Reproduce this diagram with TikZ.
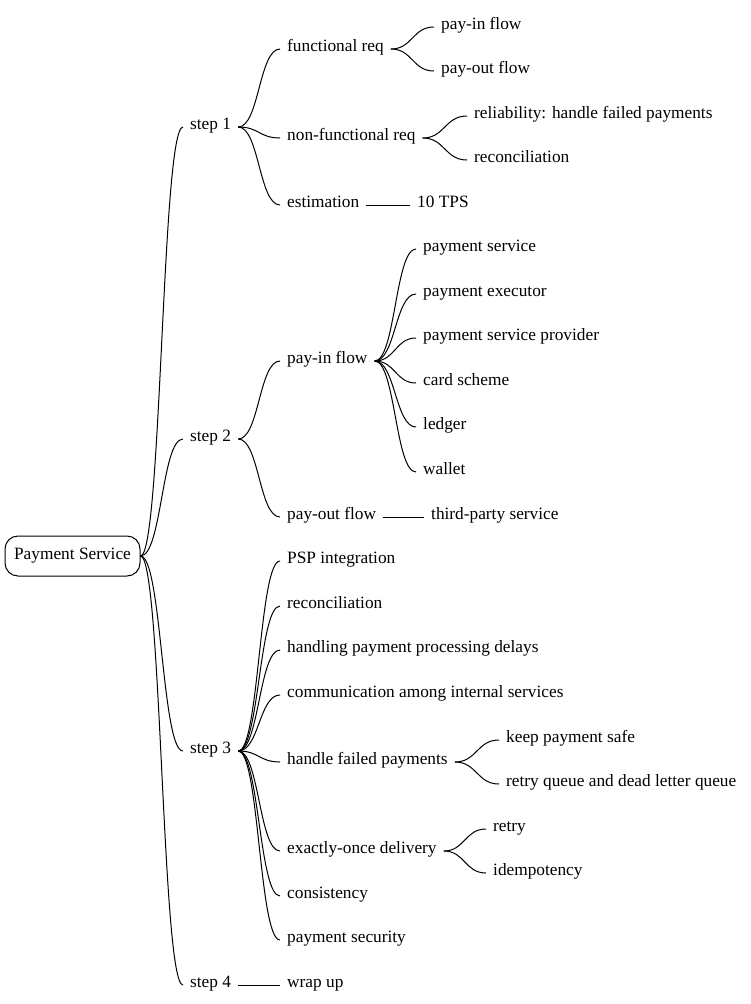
\documentclass[tikz,border=0pt]{standalone}
\usepackage{fontspec}
\setmainfont{Liberation Serif}
\usetikzlibrary{calc}
\tikzset{
  txt/.style={anchor=west, inner xsep=7pt, inner ysep=0pt, text height=0.46em, text depth=0pt, font=\fontsize{17.3}{20}\selectfont},
  rootbox/.style={draw, line width=1pt, rounded corners=13pt, minimum width=135pt, minimum height=40pt, inner sep=0pt, font=\fontsize{17.3}{20}\selectfont},
  edge/.style={line width=1pt}
}
\newcommand{\cv}[2]{\draw[edge] let \p1=(#1.east), \p2=(#2.west) in (\p1) .. controls ({0.5*\x1+0.5*\x2},\y1) and ({0.5*\x1+0.5*\x2},\y2) .. (\p2);}
\newcommand{\sln}[2]{\draw[edge] (#1.east) -- (#2.west);}
\begin{document}
\begin{tikzpicture}[x=1pt,y=-1pt]
\useasboundingbox (0,0) rectangle (750,1004);
\node[rootbox] (root) at (72.5,556) {Payment Service};
% level 1
\node[txt] (s1) at (183,127) {step 1};
\node[txt] (s2) at (183,439) {step 2};
\node[txt] (s3) at (183,751) {step 3};
\node[txt] (s4) at (183,985) {step 4};
% step 1
\node[txt] (fr) at (280,49) {functional req};
\node[txt] (nfr) at (280,138) {non-functional req};
\node[txt] (est) at (280,205) {estimation};
\node[txt] (fr1) at (434,27) {pay-in flow};
\node[txt] (fr2) at (434,71) {pay-out flow};
\node[txt] (nf1) at (467,116) {reliability: handle failed payments};
\node[txt] (nf2) at (467,160) {reconciliation};
\node[txt] (tps) at (410,205) {10 TPS};
% step 2
\node[txt] (pin) at (280,361) {pay-in flow};
\node[txt] (pout) at (280,517) {pay-out flow};
\node[txt] (p1) at (416,249) {payment service};
\node[txt] (p2) at (416,294) {payment executor};
\node[txt] (p3) at (416,338) {payment service provider};
\node[txt] (p4) at (416,383) {card scheme};
\node[txt] (p5) at (416,427) {ledger};
\node[txt] (p6) at (416,472) {wallet};
\node[txt] (tp) at (424,517) {third-party service};
% step 3
\node[txt] (t1) at (280,561) {PSP integration};
\node[txt] (t2) at (280,606) {reconciliation};
\node[txt] (t3) at (280,650) {handling payment processing delays};
\node[txt] (t4) at (280,695) {communication among internal services};
\node[txt] (t5) at (280,762) {handle failed payments};
\node[txt] (t6) at (280,851) {exactly-once delivery};
\node[txt] (t7) at (280,896) {consistency};
\node[txt] (t8) at (280,940) {payment security};
\node[txt] (k1) at (499,740) {keep payment safe};
\node[txt] (k2) at (499,784) {retry queue and dead letter queue};
\node[txt] (r1) at (486,829) {retry};
\node[txt] (r2) at (486,873) {idempotency};
% step 4
\node[txt] (wu) at (280,985) {wrap up};
% edges
\cv{root}{s1}\cv{root}{s2}\cv{root}{s3}\cv{root}{s4}
\cv{s1}{fr}\cv{s1}{nfr}\cv{s1}{est}
\cv{fr}{fr1}\cv{fr}{fr2}
\cv{nfr}{nf1}\cv{nfr}{nf2}
\sln{est}{tps}
\cv{s2}{pin}\cv{s2}{pout}
\cv{pin}{p1}\cv{pin}{p2}\cv{pin}{p3}\cv{pin}{p4}\cv{pin}{p5}\cv{pin}{p6}
\sln{pout}{tp}
\cv{s3}{t1}\cv{s3}{t2}\cv{s3}{t3}\cv{s3}{t4}\cv{s3}{t5}\cv{s3}{t6}\cv{s3}{t7}\cv{s3}{t8}
\cv{t5}{k1}\cv{t5}{k2}
\cv{t6}{r1}\cv{t6}{r2}
\sln{s4}{wu}
\end{tikzpicture}
\end{document}
